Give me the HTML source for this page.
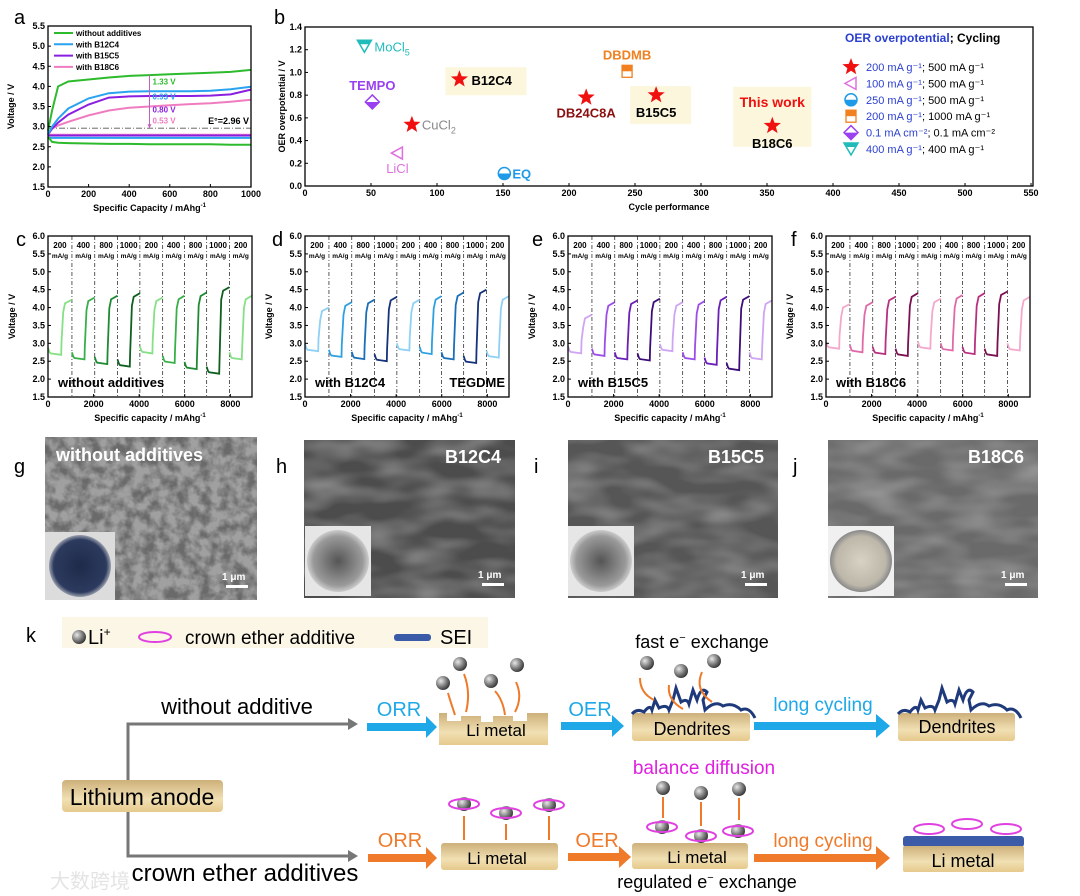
<!DOCTYPE html>
<html><head><meta charset="utf-8"><style>
body{margin:0;background:#fff;width:1080px;height:896px;overflow:hidden}
svg{display:block;font-family:"Liberation Sans","Noto Sans CJK SC",sans-serif}
.b{font-weight:bold}
</style></head><body>
<svg id="fig" width="1080" height="896" viewBox="0 0 1080 896">
<defs>
<filter id="noiseA" x="0" y="0" width="100%" height="100%"><feTurbulence type="fractalNoise" baseFrequency="0.09" numOctaves="3" seed="3"/><feColorMatrix type="matrix" values="0 0 0 0 0.35  0 0 0 0 0.35  0 0 0 0 0.35  2.6 0 0 0 -0.7"/></filter>
<filter id="noiseB" x="0" y="0" width="100%" height="100%"><feTurbulence type="fractalNoise" baseFrequency="0.02 0.05" numOctaves="2" seed="7"/><feColorMatrix type="matrix" values="0 0 0 0 0.5  0 0 0 0 0.5  0 0 0 0 0.5  1.0 0 0 0 -0.35"/></filter>
<linearGradient id="gold" x1="0" y1="0" x2="0" y2="1"><stop offset="0" stop-color="#cdb07a"/><stop offset="0.6" stop-color="#f1e0b3"/><stop offset="1" stop-color="#e6c98c"/></linearGradient>
<radialGradient id="ball" cx="0.35" cy="0.35" r="0.7"><stop offset="0" stop-color="#e8e8e8"/><stop offset="0.6" stop-color="#777"/><stop offset="1" stop-color="#333"/></radialGradient>
<radialGradient id="coinG" cx="0.5" cy="0.5" r="0.5"><stop offset="0" stop-color="#1e2b4a"/><stop offset="0.85" stop-color="#2c3a5e"/><stop offset="1" stop-color="#9aa0ad"/></radialGradient>
<radialGradient id="coinH" cx="0.5" cy="0.5" r="0.5"><stop offset="0" stop-color="#555"/><stop offset="0.8" stop-color="#9a9a9a"/><stop offset="1" stop-color="#ccc"/></radialGradient>
<radialGradient id="coinJ" cx="0.5" cy="0.5" r="0.5"><stop offset="0" stop-color="#d8d2c4"/><stop offset="0.8" stop-color="#bdb7aa"/><stop offset="1" stop-color="#888"/></radialGradient>
</defs>
<g id="charts"></g>

<!-- SEM panels -->
<g>
 <g>
  <rect x="45" y="437" width="212" height="163" fill="#6a6a6a"/>
  <rect x="45" y="437" width="212" height="163" filter="url(#noiseA)"/>
  <text x="56" y="461" class="b" font-size="18" fill="#fff">without additives</text>
  <rect x="45" y="532" width="70" height="68" fill="#dcdcdc"/>
  <circle cx="80" cy="566" r="31" fill="url(#coinG)"/>
  <text x="222" y="580" font-size="10" fill="#fff" class="b">1 μm</text>
  <rect x="226" y="585" width="22" height="3" fill="#fff"/>
 </g>
 <g>
  <rect x="304" y="440" width="211" height="158" fill="#4c4c4c"/>
  <rect x="304" y="440" width="211" height="158" filter="url(#noiseB)"/>
  <text x="445" y="463" class="b" font-size="18" fill="#fff">B12C4</text>
  <rect x="305" y="526" width="66" height="70" fill="#e6e6e6"/>
  <circle cx="338" cy="561" r="31" fill="url(#coinH)"/>
  <text x="478" y="578" font-size="10" fill="#fff" class="b">1 μm</text>
  <rect x="482" y="583" width="22" height="3" fill="#fff"/>
 </g>
 <g>
  <rect x="568" y="440" width="210" height="158" fill="#565656"/>
  <rect x="568" y="440" width="210" height="158" filter="url(#noiseB)"/>
  <text x="708" y="463" class="b" font-size="18" fill="#fff">B15C5</text>
  <rect x="568" y="526" width="66" height="70" fill="#e6e6e6"/>
  <circle cx="601" cy="561" r="31" fill="url(#coinH)"/>
  <text x="741" y="578" font-size="10" fill="#fff" class="b">1 μm</text>
  <rect x="745" y="583" width="22" height="3" fill="#fff"/>
 </g>
 <g>
  <rect x="828" y="440" width="210" height="158" fill="#6a6a6a"/>
  <rect x="828" y="440" width="210" height="158" filter="url(#noiseB)"/>
  <text x="968" y="463" class="b" font-size="18" fill="#fff">B18C6</text>
  <rect x="828" y="526" width="66" height="70" fill="#f0f0f0"/>
  <circle cx="861" cy="561" r="31" fill="url(#coinJ)"/>
  <text x="1001" y="578" font-size="10" fill="#fff" class="b">1 μm</text>
  <rect x="1005" y="583" width="22" height="3" fill="#fff"/>
 </g>
</g>

<!-- panel letters -->
<g font-size="20" fill="#000">
 <text x="14" y="24">a</text><text x="274" y="24">b</text>
 <text x="16" y="246">c</text><text x="272" y="246">d</text><text x="532" y="246">e</text><text x="791" y="246">f</text>
 <text x="14" y="473">g</text><text x="276" y="473">h</text><text x="534" y="473">i</text><text x="793" y="473">j</text>
 <text x="26" y="642">k</text>
</g>

<!-- schematic -->
<g font-size="19">
 <rect x="62" y="617" width="426" height="31" fill="#fbf6e6"/>
 <circle cx="79" cy="637" r="7" fill="url(#ball)"/>
 <text x="88" y="644" font-size="20">Li<tspan font-size="12" dy="-8">+</tspan></text>
 <ellipse cx="155" cy="637" rx="16" ry="5" fill="none" stroke="#e040e0" stroke-width="2"/>
 <text x="185" y="644" font-size="19">crown ether additive</text>
 <rect x="394" y="634" width="37" height="7" rx="3" fill="#3b5ba8"/>
 <text x="440" y="644" font-size="20">SEI</text>

 <path d="M128 780 V724 H350 M128 812 V856 H350" fill="none" stroke="#777" stroke-width="3"/>
 <path d="M348 718 L358 724 L348 730Z M348 850 L358 856 L348 862Z" fill="#777"/>
 <text x="237" y="714" text-anchor="middle" font-size="22">without  additive</text>
 <text x="245" y="881" text-anchor="middle" font-size="24">crown  ether  additives</text>
 <rect x="62" y="780" width="161" height="32" rx="4" fill="url(#gold)"/>
 <text x="142" y="805" text-anchor="middle" font-size="23">Lithium  anode</text>

 <!-- top row -->
 <path d="M367 723 H426 V716 L437 727 L426 738 V731 H367Z" fill="#1ea8e8"/>
 <text x="399" y="716" text-anchor="middle" fill="#1ea8e8" font-size="20">ORR</text>
 <path d="M439 713 h8 v8 h14 v-5 h20 v6 h12 v-6 h20 v5 h14 v-8 h21 v32 h-109Z" fill="url(#gold)"/>
 <text x="496" y="736" text-anchor="middle" font-size="17">Li metal</text>
 <circle cx="443" cy="683" r="7" fill="url(#ball)"/><circle cx="460" cy="664" r="7" fill="url(#ball)"/>
 <circle cx="491" cy="681" r="7" fill="url(#ball)"/><circle cx="517" cy="665" r="7" fill="url(#ball)"/>
 <path d="M455 715 q-5 -15 -7 -22 M466 712 q5 -20 -2 -38 M505 715 q-2 -15 -10 -24 M515 712 q8 -15 1 -30" fill="none" stroke="#ee7a2a" stroke-width="2"/>
 <path d="M561 722 H612 V715 L624 726 L612 737 V730 H561Z" fill="#1ea8e8"/>
 <text x="590" y="716" text-anchor="middle" fill="#1ea8e8" font-size="20">OER</text>
 <rect x="632" y="713" width="118" height="28" rx="3" fill="url(#gold)"/>
 <path d="M632 714 q5 -6 12 -2 q6 -8 8 -2 l3 -10 l4 8 q8 -4 10 2 l4 -10 l3 -12 l5 14 q6 -4 8 2 l4 -14 l4 10 q4 -14 10 -8 l-4 8 l2 10 q10 -10 18 -4 q10 -4 18 4 q8 -4 14 8" fill="none" stroke="#1f3a7a" stroke-width="3"/>
 <text x="692" y="735" text-anchor="middle" font-size="18">Dendrites</text>
 <text x="702" y="648" text-anchor="middle" font-size="18">fast e<tspan font-size="11" dy="-7">−</tspan><tspan dy="7"> exchange</tspan></text>
 <circle cx="647" cy="663" r="7" fill="url(#ball)"/><circle cx="681" cy="671" r="7" fill="url(#ball)"/><circle cx="714" cy="661" r="7" fill="url(#ball)"/>
 <path d="M640 678 q0 15 14 22 M669 685 q-2 15 14 24 M702 672 q-8 18 10 30" fill="none" stroke="#ee7a2a" stroke-width="2"/>
 <path d="M754 722 H876 V714 L890 726 L876 738 V730 H754Z" fill="#1ea8e8"/>
 <text x="823" y="711" text-anchor="middle" fill="#1ea8e8" font-size="19">long cycling</text>
 <rect x="898" y="713" width="117" height="28" rx="3" fill="url(#gold)"/>
 <path d="M898 714 q5 -6 12 -2 q6 -8 8 -2 l3 -10 l4 8 q8 -4 10 2 l4 -10 l3 -12 l5 14 q6 -4 8 2 l4 -14 l4 10 q4 -14 10 -8 l-4 8 l2 10 q10 -10 18 -4 q10 -4 18 4 q8 -4 14 8" fill="none" stroke="#1f3a7a" stroke-width="3"/>
 <text x="957" y="733" text-anchor="middle" font-size="18">Dendrites</text>

 <!-- bottom row -->
 <path d="M368 854 H426 V847 L437 858 L426 869 V862 H368Z" fill="#ee7a2a"/>
 <text x="400" y="847" text-anchor="middle" fill="#ee7a2a" font-size="20">ORR</text>
 <rect x="441" y="843" width="117" height="27" rx="3" fill="url(#gold)"/>
 <text x="497" y="864" text-anchor="middle" font-size="17">Li metal</text>
 <path d="M464 840 V816 M506 840 V824 M549 840 V816" stroke="#ee7a2a" stroke-width="2"/>
 <circle cx="464" cy="804" r="7" fill="url(#ball)"/><ellipse cx="464" cy="804" rx="15" ry="5" fill="none" stroke="#e040e0" stroke-width="2"/>
 <circle cx="506" cy="813" r="7" fill="url(#ball)"/><ellipse cx="506" cy="813" rx="15" ry="5" fill="none" stroke="#e040e0" stroke-width="2"/>
 <circle cx="549" cy="805" r="7" fill="url(#ball)"/><ellipse cx="549" cy="805" rx="15" ry="5" fill="none" stroke="#e040e0" stroke-width="2"/>
 <path d="M568 853 H619 V846 L631 857 L619 868 V861 H568Z" fill="#ee7a2a"/>
 <text x="597" y="847" text-anchor="middle" fill="#ee7a2a" font-size="20">OER</text>
 <rect x="632" y="843" width="116" height="26" rx="3" fill="url(#gold)"/>
 <text x="697" y="863" text-anchor="middle" font-size="17">Li metal</text>
 <text x="704" y="774" text-anchor="middle" fill="#e020e0" font-size="19">balance diffusion</text>
 <circle cx="663" cy="788" r="7" fill="url(#ball)"/><circle cx="701" cy="793" r="7" fill="url(#ball)"/><circle cx="739" cy="789" r="7" fill="url(#ball)"/>
 <path d="M663 797 V818 M701 802 V826 M739 798 V820" stroke="#ee7a2a" stroke-width="2"/>
 <circle cx="662" cy="827" r="7" fill="url(#ball)"/><ellipse cx="662" cy="827" rx="15" ry="5" fill="none" stroke="#e040e0" stroke-width="2"/>
 <circle cx="701" cy="836" r="7" fill="url(#ball)"/><ellipse cx="701" cy="836" rx="15" ry="5" fill="none" stroke="#e040e0" stroke-width="2"/>
 <circle cx="738" cy="831" r="7" fill="url(#ball)"/><ellipse cx="738" cy="831" rx="15" ry="5" fill="none" stroke="#e040e0" stroke-width="2"/>
 <text x="707" y="888" text-anchor="middle" font-size="18">regulated e<tspan font-size="11" dy="-7">−</tspan><tspan dy="7"> exchange</tspan></text>
 <path d="M754 854 H876 V846 L890 858 L876 870 V862 H754Z" fill="#ee7a2a"/>
 <text x="823" y="847" text-anchor="middle" fill="#ee7a2a" font-size="19">long cycling</text>
 <rect x="903" y="836" width="121" height="11" rx="3" fill="#3b5ba8"/>
 <rect x="903" y="846" width="121" height="26" rx="2" fill="url(#gold)"/>
 <text x="963" y="867" text-anchor="middle" font-size="18">Li metal</text>
 <ellipse cx="929" cy="829" rx="15" ry="5" fill="none" stroke="#e040e0" stroke-width="2"/>
 <ellipse cx="967" cy="824" rx="15" ry="5" fill="none" stroke="#e040e0" stroke-width="2"/>
 <ellipse cx="1006" cy="829" rx="15" ry="5" fill="none" stroke="#e040e0" stroke-width="2"/>
 <text x="50" y="888" font-size="20" fill="#e4e4e4">大数跨境</text>
</g>
</svg>
<script>
// ===== Panel a data =====
const capA = [0,20,50,100,200,300,400,500,600,700,800,900,1000];
const chgNone = [2.9,3.4,4.0,4.12,4.17,4.22,4.26,4.28,4.30,4.32,4.34,4.36,4.41];
const disNone = [2.75,2.62,2.6,2.59,2.58,2.57,2.57,2.56,2.56,2.56,2.56,2.55,2.55];
const chgB12 = [2.8,3.0,3.2,3.45,3.7,3.83,3.87,3.88,3.88,3.88,3.89,3.93,3.99];
const disB12 = [2.72,2.72,2.72,2.72,2.72,2.72,2.72,2.72,2.72,2.72,2.72,2.72,2.72];
const chgB15 = [2.8,2.95,3.1,3.3,3.55,3.72,3.75,3.76,3.76,3.76,3.77,3.8,3.92];
const disB15 = [2.78,2.78,2.78,2.78,2.78,2.78,2.78,2.78,2.78,2.78,2.78,2.78,2.78];
const chgB18 = [2.8,2.95,3.03,3.12,3.28,3.40,3.47,3.5,3.53,3.56,3.58,3.62,3.67];
const disB18 = [2.8,2.8,2.8,2.8,2.8,2.8,2.8,2.8,2.8,2.8,2.8,2.8,2.8];
const seriesNamesA = ['without additives','with B12C4','with B15C5','with B18C6'];
const overpotLabels = ['1.33 V','0.93 V','0.80 V','0.53 V'];
const eqPotential = 2.96;
// ===== Panel b data =====
const bNames = ['MoCl5','TEMPO','CuCl2','LiCl','EQ','B12C4','DBDMB','DB24C8A','B15C5','B18C6'];
const bCycles = [45,51,81,70,151,117,244,213,266,354];
const bOver = [1.23,0.74,0.54,0.29,0.11,0.94,1.01,0.78,0.80,0.53];
const bXTicks = [0,50,100,150,200,250,300,350,400,450,500,550];
const bYTicks = [0,0.2,0.4,0.6,0.8,1.0,1.2,1.4];
const legendRates = ['200 mA g⁻¹','100 mA g⁻¹','250 mA g⁻¹','200 mA g⁻¹','0.1 mA cm⁻²','400 mA g⁻¹'];
const legendCycling = ['500 mA g⁻¹','500 mA g⁻¹','500 mA g⁻¹','1000 mA g⁻¹','0.1 mA cm⁻²','400 mA g⁻¹'];
// ===== Rate panels data =====
const rates = ['200','400','800','1000','200','400','800','1000','200'];
const cycleBounds = [0,1050,2050,3050,4030,5030,5990,6960,7960,8950];
const disC = [2.68,2.55,2.42,2.35,2.72,2.45,2.28,2.15,2.55];
const chgC = [4.22,4.28,4.33,4.40,4.28,4.33,4.42,4.57,4.33];
const disD = [2.78,2.62,2.56,2.50,2.8,2.7,2.55,2.45,2.6];
const chgD = [4.0,4.15,4.22,4.3,4.22,4.32,4.42,4.5,4.32];
const disE = [2.72,2.65,2.55,2.52,2.78,2.55,2.4,2.25,2.55];
const chgE = [3.8,4.15,4.2,4.25,4.15,4.18,4.3,4.32,4.2];
const disF = [2.85,2.75,2.7,2.65,2.85,2.8,2.7,2.65,2.8];
const chgF = [4.1,4.15,4.3,4.4,4.25,4.35,4.4,4.45,4.3];
const rateXTicks = [0,2000,4000,6000,8000];
const rateYTicks = [1.5,2.0,2.5,3.0,3.5,4.0,4.5,5.0,5.5,6.0];
const aXTicks = [0,200,400,600,800,1000];
const aYTicks = [1.5,2.0,2.5,3.0,3.5,4.0,4.5,5.0,5.5];

const NS='http://www.w3.org/2000/svg';
const root=document.getElementById('charts');
function mk(tag,attrs,parent){const e=document.createElementNS(NS,tag);for(const k in attrs)e.setAttribute(k,attrs[k]);(parent||root).appendChild(e);return e;}
function scale(d0,d1,r0,r1){return v=>r0+(v-d0)/(d1-d0)*(r1-r0);}
function txt(p,x,y,s,attrs){const t=mk('text',Object.assign({x:x,y:y},attrs||{}),p);t.textContent=s;return t;}

function axes(g,L,T,R,B,xs,ys,xt,yt,ydec,xlabel,ylabel,ylx){
  const box=mk('rect',{x:L,y:T,width:R-L,height:B-T,fill:'none',stroke:'#000','stroke-width':1.3},g);
  
  
  xt.forEach(v=>{const x=xs(v);mk('line',{x1:x,x2:x,y1:B,y2:B-3,stroke:'#000'},g);
    const t=txt(g,x,B+10,String(v),{'font-size':9,'font-weight':'bold','text-anchor':'middle'});
    
    });
  yt.forEach(v=>{const y=ys(v);mk('line',{x1:L,x2:L+3,y1:y,y2:y,stroke:'#000'},g);
    const t=txt(g,L-3,y+3,v.toFixed(ydec),{'font-size':9,'font-weight':'bold','text-anchor':'end'});
    
    });
  const xl=txt(g,(L+R)/2,B+24,'',{'font-size':9,'font-weight':'bold','text-anchor':'middle'});
  xl.innerHTML=xlabel;
  
  
  const yl=txt(g,ylx,(T+B)/2,ylabel,{'font-size':9,'font-weight':'bold','text-anchor':'middle',transform:`rotate(-90 ${ylx} ${(T+B)/2})`});
  
  
}
function line(g,xs,ys,X,Y,color,w){const d=X.map((x,i)=>(i?'L':'M')+xs(x).toFixed(1)+' '+ys(Y[i]).toFixed(1)).join(' ');return mk('path',{d:d,fill:'none',stroke:color,'stroke-width':w||2},g);}

// ---- Panel a ----
(function(){
  const g=mk('g',{});
  
  
  const L=48,R=251,T=26,B=187;
  const xs=scale(0,1000,L,R), ys=scale(1.5,5.5,B,T);
  const cols=['#2dbb2d','#29a3f0','#8a1fe0','#f07cc0'];
  const ch=[chgNone,chgB12,chgB15,chgB18], di=[disNone,disB12,disB15,disB18];
  const eq=mk('line',{x1:L,x2:R,y1:ys(eqPotential),y2:ys(eqPotential),stroke:'#888','stroke-width':1.2,'stroke-dasharray':'6 2 1 2'},g);
  
  
  for(let i=3;i>=0;i--){
    const dl=line(g,xs,ys,capA,di[i],cols[i],2);
    
    
    const cl=line(g,xs,ys,capA,ch[i],cols[i],2);
    
    
  }
  const xa=xs(500);
  mk('line',{x1:xa,x2:xa,y1:ys(chgNone[7]),y2:ys(eqPotential),stroke:'#c060c0','stroke-width':1},g);
  mk('path',{d:`M${xa-2} ${ys(eqPotential)-4} L${xa} ${ys(eqPotential)} L${xa+2} ${ys(eqPotential)-4}`,fill:'#c060c0'},g);
  const yPos=[ys(4.05),ys(3.68),ys(3.35),ys(3.08)];
  overpotLabels.forEach((s,i)=>{const t=txt(g,xa+3,yPos[i],s,{'font-size':8,'font-weight':'bold',fill:cols[i]});
    
    });
  const et=txt(g,R-2,ys(eqPotential)-4,'E°='+eqPotential.toFixed(2)+' V',{'font-size':9,'font-weight':'bold','text-anchor':'end'});
  
  
  seriesNamesA.forEach((s,i)=>{const y=33+i*11.3;
    const lg=mk('line',{x1:54,x2:73,y1:y,y2:y,stroke:cols[i],'stroke-width':2},g);
    
    
    const t=txt(g,76,y+3,s,{'font-size':8,'font-weight':'bold'});
    
    });
  axes(g,L,T,R,B,xs,ys,aXTicks,aYTicks,1,'Specific Capacity  / mAhg<tspan font-size="6" dy="-4">-1</tspan>','Voltage / V',14);
})();

// ---- Panel b ----
function star(g,cx,cy,r,fill){let p='';for(let i=0;i<10;i++){const a=-Math.PI/2+i*Math.PI/5,rr=i%2?r*0.42:r;p+=(i?'L':'M')+(cx+rr*Math.cos(a)).toFixed(1)+' '+(cy+rr*Math.sin(a)).toFixed(1);}return mk('path',{d:p+'Z',fill:fill},g);}
function marker(g,type,x,y){
  let m;
  if(type==='star')m=star(g,x,y,9,'#f01010');
  else if(type==='tri-down'){m=mk('g',{},g);mk('path',{d:`M${x-7} ${y-6} L${x+7} ${y-6} L${x} ${y+6}Z`,fill:'#fff',stroke:'#22bbbb','stroke-width':1.5},m);mk('path',{d:`M${x-7} ${y-6} L${x+7} ${y-6} L${x+4.5} ${y-2} L${x-4.5} ${y-2}Z`,fill:'#22bbbb'},m);}
  else if(type==='diamond'){m=mk('g',{},g);mk('path',{d:`M${x} ${y-7} L${x+7} ${y} L${x} ${y+7} L${x-7} ${y}Z`,fill:'#fff',stroke:'#9a40f0','stroke-width':1.5},m);mk('path',{d:`M${x-7} ${y} L${x+7} ${y} L${x} ${y+7}Z`,fill:'#9a40f0'},m);}
  else if(type==='tri-left'){m=mk('path',{d:`M${x-6} ${y} L${x+5} ${y-6} L${x+5} ${y+6}Z`,fill:'#fff',stroke:'#e070e0','stroke-width':1.5},g);}
  else if(type==='circle'){m=mk('g',{},g);mk('circle',{cx:x,cy:y,r:6,fill:'#fff',stroke:'#1e9ae8','stroke-width':1.5},m);mk('path',{d:`M${x-6} ${y} A6 6 0 0 0 ${x+6} ${y}Z`,fill:'#1e9ae8'},m);}
  else if(type==='square'){m=mk('g',{},g);mk('rect',{x:x-5,y:y-6,width:10,height:12,fill:'#fff',stroke:'#f08020','stroke-width':1.3},m);mk('rect',{x:x-5,y:y-6,width:10,height:6,fill:'#f08020'},m);}
  return m;
}
(function(){
  const g=mk('g',{});
  
  
  const L=305,R=1033,T=27,B=186;
  const xs=scale(0,551.5,L,R), ys=scale(0,1.4,B,T);
  const types=['tri-down','diamond','star','tri-left','circle','star','square','star','star','star'];
  const hl={B12C4:[-14,-12,81,28],B15C5:[-26,-9,61,38],B18C6:[-39,-39,78,60]};
  bNames.forEach((n,i)=>{const x=xs(bCycles[i]),y=ys(bOver[i]);
    if(hl[n]){const h=hl[n];const r=mk('rect',{x:x+h[0],y:y+h[1],width:h[2],height:h[3],fill:'#fbf6dc'},g);
      
      }});
  axes(g,L,T,R,B,xs,ys,bXTicks,bYTicks,1,'Cycle performance','OER overpotential / V',285);
  const lab={MoCl5:[10,5,'#22bbbb','start','MoCl<tspan font-size="9" dy="4">5</tspan>',false],
    TEMPO:[0,-12,'#9a40f0','middle','TEMPO',true],CuCl2:[10,5,'#888','start','CuCl<tspan font-size="9" dy="4">2</tspan>',false],
    LiCl:[0,20,'#e070e0','middle','LiCl',false],EQ:[8,5,'#1e9ae8','start','EQ',true],B12C4:[12,6,'#000','start','B12C4',true],
    DBDMB:[0,-12,'#f08020','middle','DBDMB',true],DB24C8A:[0,20,'#8a1010','middle','DB24C8A',true],
    B15C5:[0,22,'#000','middle','B15C5',true],B18C6:[0,22,'#000','middle','B18C6',true]};
  bNames.forEach((n,i)=>{const x=xs(bCycles[i]),y=ys(bOver[i]);
    const m=marker(g,types[i],x,y);
    
    
    const l=lab[n];const t=txt(g,x+l[0],y+l[1],'',{'font-size':13,'font-weight':l[5]?'bold':'normal',fill:l[2],'text-anchor':l[3]});
    t.innerHTML=l[4];
    
    });
  const tw=txt(g,xs(354),ys(0.53)-19,'This work',{'font-size':14,'font-weight':'bold',fill:'#f01010','text-anchor':'middle'});
  
  
  const lt=txt(g,845,42,'',{'font-size':12,'font-weight':'bold'});
  lt.innerHTML='<tspan fill="#2a3fd0">OER overpotential</tspan>; Cycling';
  
  
  const lTypes=['star','tri-left','circle','square','diamond','tri-down'];
  legendRates.forEach((r,i)=>{const y=67+i*16.4;
    const m=marker(g,lTypes[i],851,y);
    
    
    const t=txt(g,866,y+4,'',{'font-size':11});
    t.innerHTML='<tspan fill="#2a3fd0">'+r+'</tspan>; '+legendCycling[i];
    
    });
})();

// ---- Rate panels ----
function ratePanel(name,L,dis,chg,cols,label,extra){
  const g=mk('g',{});
  
  
  const R=L+204,T=236,B=397;
  const xs=scale(0,8950,L,R), ys=scale(1.5,6.0,B,T);
  for(let i=1;i<cycleBounds.length-1;i++){const x=xs(cycleBounds[i]);
    const dl=mk('line',{x1:x,x2:x,y1:T,y2:B,stroke:'#333','stroke-width':0.8,'stroke-dasharray':'4 2 1 2'},g);
    
    }
  for(let i=0;i<rates.length;i++){
    const s=cycleBounds[i],e=cycleBounds[i+1],dl=(e-s)*0.55;
    const X=[s,s+60,s+dl*0.2,s+dl,s+dl+15,s+dl+90,s+dl+170,e];
    const Y=[dis[i]+0.2,dis[i]+0.08,dis[i]+0.04,dis[i],dis[i]+0.35,chg[i]-0.35,chg[i]-0.1,chg[i]];
    const p=line(g,xs,ys,X,Y,cols[i],1.8);
    
    
    const cx=(xs(s)+xs(e))/2;
    const t1=txt(g,cx,T+12,rates[i],{'font-size':8,'font-weight':'bold','text-anchor':'middle'});
    
    
    const t2=txt(g,cx,T+22,'mA/g',{'font-size':6.5,'font-weight':'bold','text-anchor':'middle'});
    
    
  }
  const lt=txt(g,L+10,B-10,label,{'font-size':13,'font-weight':'bold'});
  
  
  if(extra){const et=txt(g,R-4,B-10,extra,{'font-size':13,'font-weight':'bold','text-anchor':'end'});
    
    }
  axes(g,L,T,R,B,xs,ys,rateXTicks,rateYTicks,1,'Specific capacity  / mAhg<tspan font-size="6" dy="-4">-1</tspan>','Voltage / V',L-33);
}
const gC=['#86e086','#38b048','#1f8a33','#0e5f20','#86e086','#38b048','#1f8a33','#0e5f20','#86e086'];
const bC=['#8fd0f5','#2ea0e0','#1a6fb8','#15327a','#8fd0f5','#2ea0e0','#1a6fb8','#15327a','#8fd0f5'];
const pC=['#cfa4f2','#9c4ce8','#6a1fb8','#3c0d78','#cfa4f2','#9c4ce8','#6a1fb8','#3c0d78','#cfa4f2'];
const kC=['#f4a8cc','#e06aa8','#b83080','#7a1050','#f4a8cc','#e06aa8','#b83080','#7a1050','#f4a8cc'];
ratePanel('panel-c-rate-chart',48,disC,chgC,gC,'without additives');
ratePanel('panel-d-rate-chart',305,disD,chgD,bC,'with B12C4','TEGDME');
ratePanel('panel-e-rate-chart',568,disE,chgE,pC,'with B15C5');
ratePanel('panel-f-rate-chart',826,disF,chgF,kC,'with B18C6');
</script>
</body></html>
